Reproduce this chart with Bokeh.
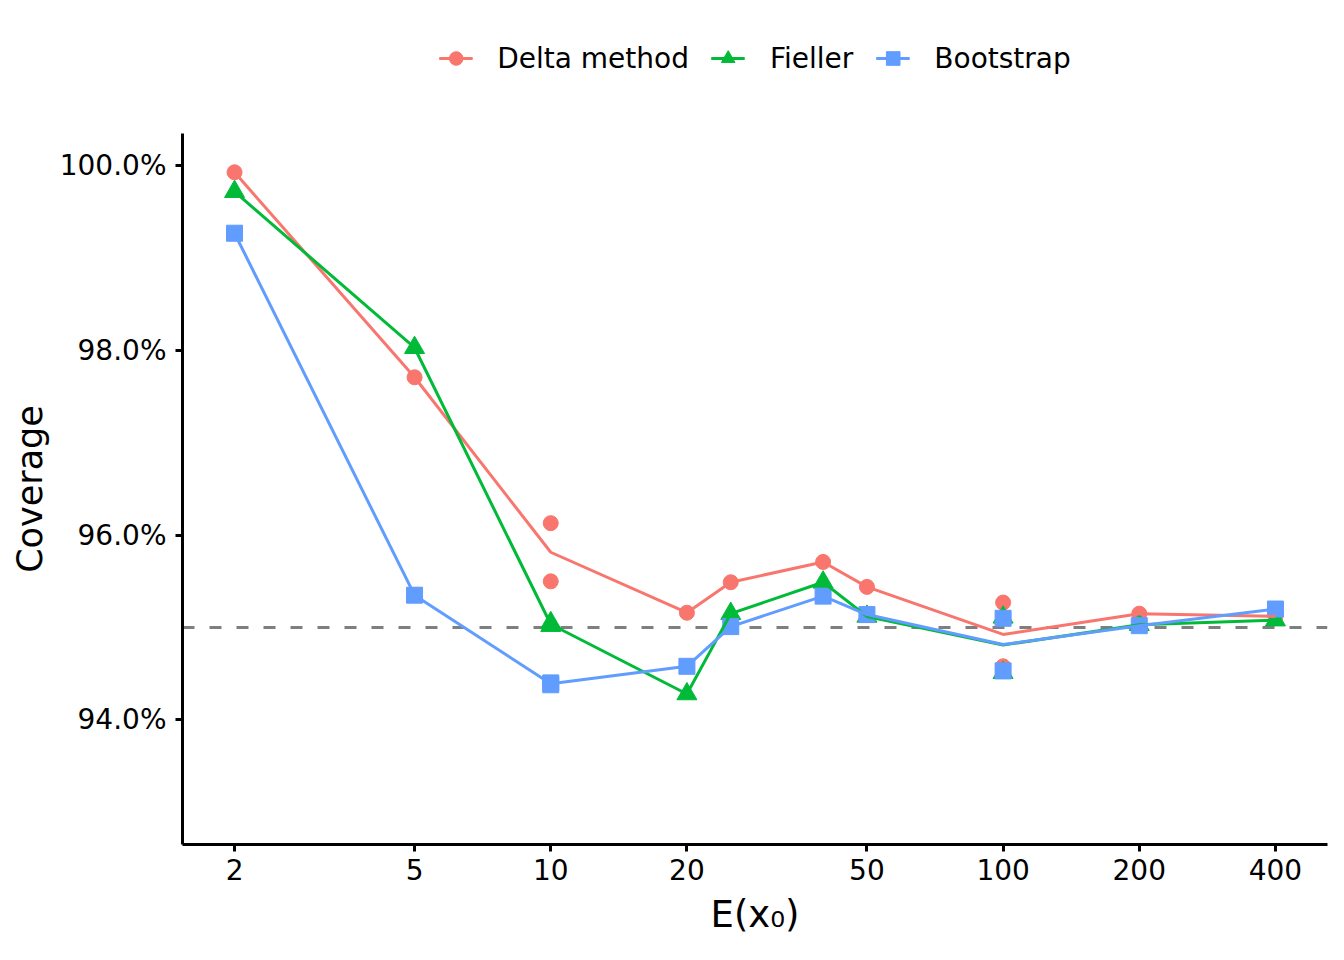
import numpy as np
import pandas as pd
from bokeh.plotting import figure
from bokeh.layouts import column
from bokeh.models import (Range1d, FixedTicker, PrintfTickFormatter, Span,
                          Legend, LegendItem, ColumnDataSource)
from bokeh.embed import file_html
from bokeh.resources import INLINE

# ---- data ----
x_obs = [2, 5, 10, 10, 20, 25, 40, 50, 100, 100, 200, 400]
delta = [99.93, 97.71, 96.13, 95.50, 95.16, 95.49, 95.71, 95.44, 95.27, 94.58, 95.15, 95.12]
fieller = [99.72, 98.03, 95.05, 95.02, 94.28, 95.15, 95.49, 95.12, 95.11, 94.51, 95.03, 95.08]
bootstrap = [99.27, 95.35, 94.40, 94.38, 94.58, 95.01, 95.34, 95.14, 95.10, 94.53, 95.02, 95.20]

methods = ["Delta method", "Fieller", "Bootstrap"]
series = {"Delta method": delta, "Fieller": fieller, "Bootstrap": bootstrap}
colors = ["#F8766D", "#00BA38", "#619CFF"]
markers = ["circle", "triangle", "square"]
marker_sizes = [15, 20, 16]

x_ticks = [2, 5, 10, 20, 50, 100, 200, 400]
y_ticks = [94, 96, 98, 100]
y_limits = [93, 100]
nominal = 95

FONT = "DejaVu Sans"
W = 1328

# ranges with 5% expansion (ggplot style)
lx0, lx1 = np.log10(min(x_obs)), np.log10(max(x_obs))
lspan = lx1 - lx0
x_lo, x_hi = 10 ** (lx0 - 0.05 * lspan), 10 ** (lx1 + 0.05 * lspan)
ypad = 0.05 * (y_limits[1] - y_limits[0])

# ---------------- main panel ----------------
p = figure(width=W, height=828, x_axis_type="log",
           x_range=Range1d(x_lo, x_hi),
           y_range=Range1d(y_limits[0] - ypad, y_limits[1] + ypad),
           output_backend="svg", toolbar_location=None,
           min_border_left=182, min_border_right=1,
           min_border_top=17, min_border_bottom=100)

p.outline_line_color = None
p.xgrid.grid_line_color = None
p.ygrid.grid_line_color = None
p.background_fill_color = "white"
p.border_fill_color = "white"

ref = Span(location=nominal, dimension="width", line_color="#7F7F7F",
           line_dash="12 15", line_width=3, level="underlay")
p.add_layout(ref)

for m, c, mk, sz in zip(methods, colors, markers, marker_sizes):
    src = ColumnDataSource(dict(x=x_obs, y=series[m]))
    p.scatter("x", "y", source=src, marker=mk, size=sz,
              fill_color=c, line_color=c, line_width=1)

for m, c in zip(methods, colors):
    df = pd.DataFrame(dict(x=x_obs, y=series[m])).groupby("x", as_index=False)["y"].mean()
    p.line(df["x"], df["y"], line_color=c, line_width=3)

p.xaxis.ticker = FixedTicker(ticks=x_ticks)
p.xaxis.formatter = PrintfTickFormatter(format="%d")
p.yaxis.ticker = FixedTicker(ticks=y_ticks)
p.yaxis.formatter = PrintfTickFormatter(format="%.1f%%")
p.xaxis.axis_label = "E(x\u2080)"
p.yaxis.axis_label = "Coverage"

for ax in (p.xaxis[0], p.yaxis[0]):
    ax.axis_line_width = 3
    ax.axis_line_color = "black"
    ax.major_tick_line_width = 3
    ax.major_tick_line_color = "black"
    ax.major_tick_out = 7
    ax.major_tick_in = 0
    ax.minor_tick_line_color = None
    ax.major_label_text_font = FONT
    ax.major_label_text_font_size = "28px"
    ax.major_label_text_color = "black"
    ax.axis_label_text_font = FONT
    ax.axis_label_text_font_style = "normal"
    ax.axis_label_text_color = "black"

p.xaxis.axis_label_text_font_size = "37px"
p.yaxis.axis_label_text_font_size = "35px"
p.xaxis.major_label_standoff = 7
p.xaxis.axis_label_standoff = 10
p.yaxis.major_label_standoff = 9
p.yaxis.axis_label_standoff = 7

# ---------------- legend strip (top) ----------------
lg = figure(width=W, height=116, x_range=Range1d(0, 1), y_range=Range1d(0, 1),
            output_backend="svg", toolbar_location=None,
            x_axis_location=None, y_axis_location=None,
            min_border_left=182, min_border_right=1,
            min_border_top=0, min_border_bottom=0)
lg.outline_line_color = None
lg.xgrid.grid_line_color = None
lg.ygrid.grid_line_color = None

items = []
for m, c, mk in zip(methods, colors, markers):
    key_src = ColumnDataSource(dict(x=[np.nan], y=[np.nan]))
    lr = lg.line("x", "y", source=key_src, line_color=c, line_width=3)
    sr = lg.scatter("x", "y", source=key_src, marker=mk, size=14,
                    fill_color=c, line_color=c)
    items.append(LegendItem(label=m, renderers=[lr, sr]))

legend = Legend(items=items, orientation="horizontal", location="center",
                glyph_width=34, glyph_height=40, label_standoff=25, spacing=22,
                padding=0, margin=0, border_line_color=None,
                background_fill_alpha=0, label_text_font=FONT,
                label_text_font_size="28px", label_text_color="black")
lg.add_layout(legend)

layout = column(lg, p, spacing=0)
open("out.html", "w").write(file_html(layout, INLINE))
